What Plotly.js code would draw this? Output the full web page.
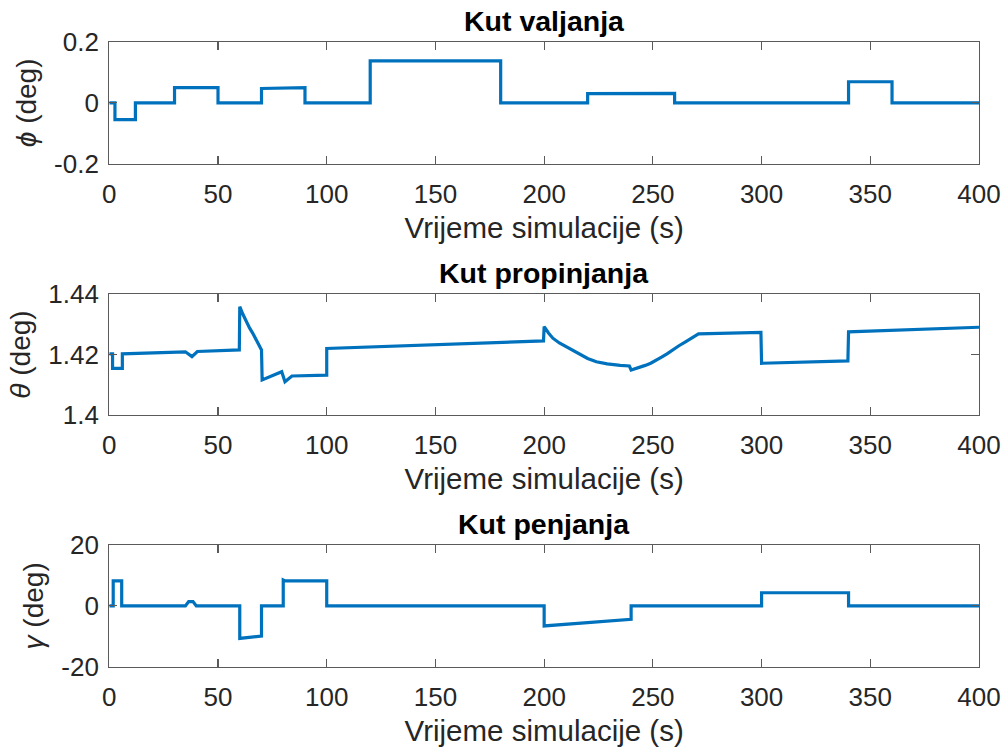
<!DOCTYPE html>
<html>
<head>
<meta charset="utf-8">
<script src="https://cdn.plot.ly/plotly-3.0.1.min.js"></script>
<style>html,body{margin:0;padding:0;background:#fff}#chart{width:1003px;height:753px}</style>
</head>
<body>
<div id="chart"></div>
<script>
// ---- data ----
const titles = ["Kut valjanja", "Kut propinjanja", "Kut penjanja"];
const xLabel = "Vrijeme simulacije (s)";
const yLabels = ["<i>ϕ</i> (deg)", "<i>θ</i> (deg)", "<i>γ</i> (deg)"];
const xTicks = [0, 50, 100, 150, 200, 250, 300, 350, 400];
const phiTicks = [-0.2, 0, 0.2];
const thetaTicks = [1.4, 1.42, 1.44];
const gammaTicks = [-20, 0, 20];

const phiT = [0,2.6,2.6,12,12,30,30,50,50,70,70,90,90,120,120,180,180,220,220,260,260,340,340,360,360,400];
const phiV = [0,0,-0.055,-0.055,0,0,0.05,0.05,0,0,0.047,0.05,0,0,0.137,0.137,0,0,0.03,0.031,0,0,0.069,0.069,0,0];

const thetaT = [0,1.5,1.5,6,6,35,38,40.5,59.8,60,61.5,63,64.5,66,68,70,70.3,79.3,80.8,84,100,100,199.7,200,202,204,207,210,212.5,215,217.5,220,224,229,235,239.2,240,242,244,246.5,249,251.5,254,256.5,259,262,265,268,271,299.7,300,339.7,340,400];
const thetaV = [1.4202,1.4202,1.4154,1.4154,1.4202,1.4209,1.4193,1.421,1.4215,1.4358,1.4332,1.4308,1.4288,1.427,1.4243,1.4215,1.4116,1.4143,1.4110,1.4129,1.4132,1.4220,1.4245,1.4292,1.4271,1.4254,1.4238,1.4226,1.4214,1.4204,1.4195,1.4187,1.4176,1.4169,1.4164,1.4162,1.4149,1.4153,1.4158,1.4164,1.4171,1.4180,1.4191,1.4202,1.4215,1.4229,1.4242,1.4255,1.4268,1.4273,1.4171,1.4179,1.4275,1.4290];

const gammaT = [0,1.8,1.8,5.7,5.7,35,36.5,38.5,40,60,60,70,70,80,80,81,100,100,200,200,240,240,300,300,340,340,400];
const gammaV = [0,0,8.2,8.2,0,0,1.4,1.4,0,0,-10.7,-9.9,0,0,8.5,8.2,8.2,0,0,-6.6,-4.4,0,0,4.3,4.3,0,0];

// ---- styling ----
const W = 1003, H = 753;
const lineColor = "#0072BD";
const axColor = "#262626";
const frameColor = "#5a5a5a";
const fontFam = "Liberation Sans, Arial, sans-serif";
const panels = [
  {t: phiT, v: phiV, ticks: phiTicks, range: [-0.2, 0.2], top: 41.7, bot: 164},
  {t: thetaT, v: thetaV, ticks: thetaTicks, range: [1.4, 1.44], top: 294, bot: 415},
  {t: gammaT, v: gammaV, ticks: gammaTicks, range: [-20, 20], top: 545, bot: 666.7}
];
const xL = 109.3, xR = 979;

const traces = [];
const layout = {
  width: W, height: H,
  margin: {l: 0, r: 0, t: 0, b: 0},
  paper_bgcolor: "#fff", plot_bgcolor: "#fff",
  showlegend: false,
  font: {family: fontFam, color: axColor},
  annotations: []
};

panels.forEach((p, i) => {
  const n = i === 0 ? "" : String(i + 1);
  traces.push({
    x: p.t, y: p.v, type: "scatter", mode: "lines",
    xaxis: "x" + n, yaxis: "y" + n,
    line: {color: lineColor, width: 3.2},
    hoverinfo: "skip"
  });
  const ydom = [1 - p.bot / H, 1 - p.top / H];
  layout["xaxis" + n] = {
    domain: [xL / W, xR / W],
    anchor: "y" + n,
    range: [0, 400],
    tickvals: xTicks,
    ticktext: xTicks.map(String),
    ticks: "inside", ticklen: 8, tickcolor: frameColor, tickwidth: 1.2,
    showline: true, linecolor: frameColor, linewidth: 1.2, mirror: "ticks",
    showgrid: false, zeroline: false,
    tickfont: {size: 26, color: axColor, family: fontFam},
    ticklabelstandoff: 7,
    title: {text: xLabel, font: {size: 29.5, color: axColor, family: fontFam}, standoff: 9},
    automargin: false
  };
  layout["yaxis" + n] = {
    domain: ydom,
    anchor: "x" + n,
    range: p.range,
    tickvals: p.ticks,
    ticktext: p.ticks.map(String),
    ticks: "inside", ticklen: 8, tickcolor: frameColor, tickwidth: 1.2,
    showline: true, linecolor: frameColor, linewidth: 1.2, mirror: "ticks",
    showgrid: false, zeroline: false,
    tickfont: {size: 26, color: axColor, family: fontFam},
    ticklabelstandoff: 4,
    title: {text: yLabels[i], font: {size: 28, color: axColor, family: fontFam}, standoff: 9},
    automargin: false
  };
  layout.annotations.push({
    text: "<b>" + titles[i] + "</b>",
    xref: "paper", yref: "paper",
    x: (xL + xR) / 2 / W, y: 1 - (p.top - 3) / H,
    xanchor: "center", yanchor: "bottom",
    showarrow: false,
    font: {size: 28.5, color: "#000", family: fontFam}
  });
});

Plotly.newPlot("chart", traces, layout, {staticPlot: true, displayModeBar: false});
</script>
</body>
</html>
